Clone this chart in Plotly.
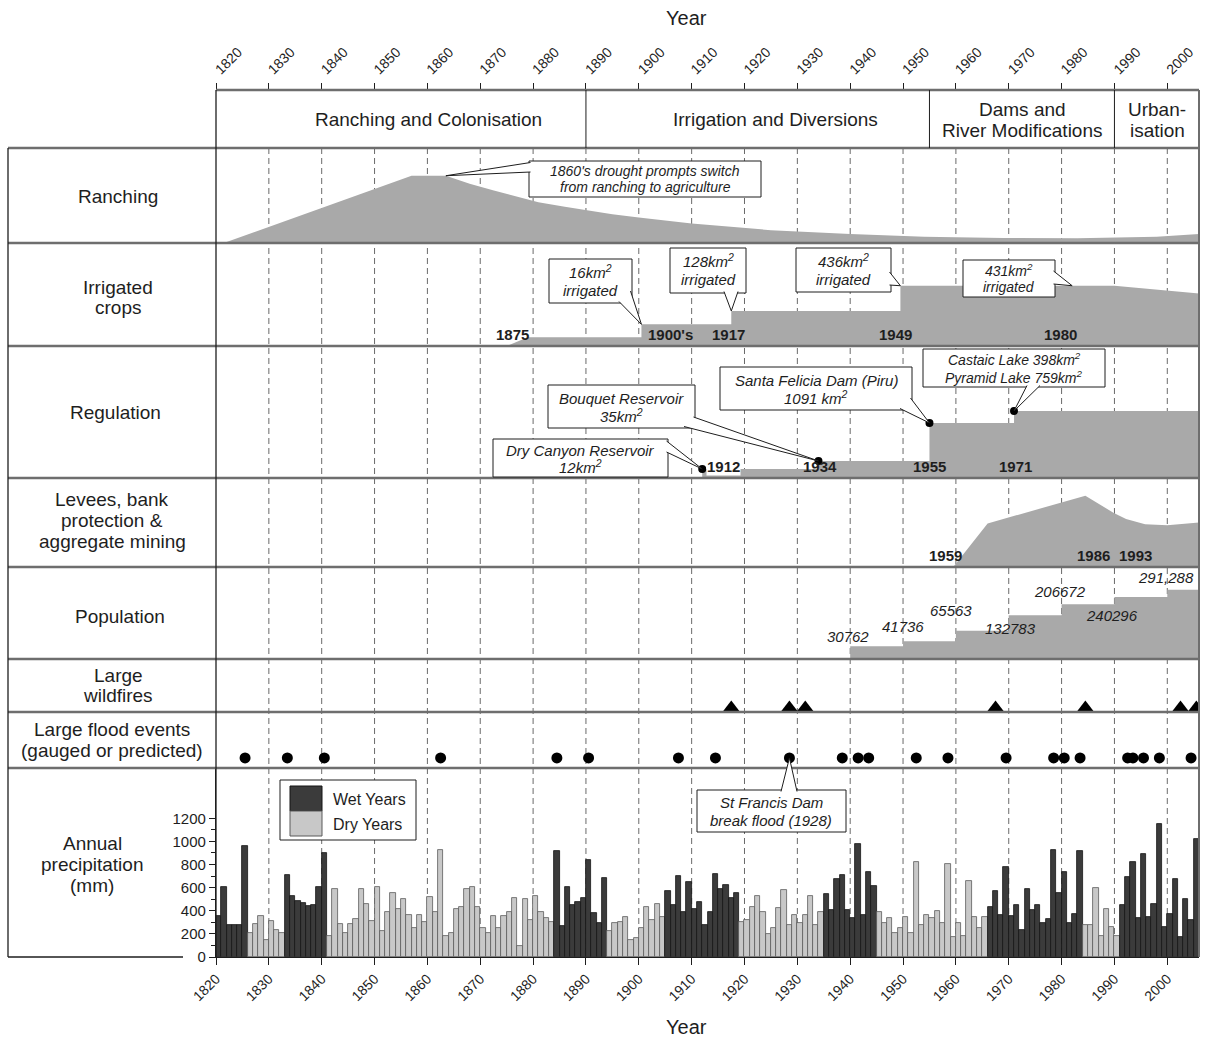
import plotly.graph_objects as go

W, H = 1208, 1037
X_LEFT, X_RIGHT = 216, 1199
YEAR0, YEAR1 = 1820, 2006
FONT = "Liberation Sans, Arial, Helvetica, sans-serif"
INK = "#1e1e1e"
AREA = "#a9a9a9"
WET = "#3b3b3b"
DRY = "#c8c8c8"
SEP = "#6e6e6e"

# ---------------------------------------------------------------- data
decades = list(range(1820, 2001, 10))
precip_years = list(range(1820, 2006))
precip_mm = [
    355, 603, 274, 274, 274, 958, 210, 282, 355, 143,   # 1820s
    311, 230, 210, 710, 530, 486, 463, 442, 448, 608,   # 1830s
    900, 186, 585, 282, 210, 288, 326, 585, 457, 311,   # 1840s
    608, 224, 390, 556, 416, 506, 361, 253, 361, 303,   # 1850s
    515, 390, 929, 180, 210, 419, 434, 585, 608, 434,   # 1860s
    253, 210, 355, 253, 355, 390, 509, 99, 501, 320,    # 1870s
    530, 390, 341, 306, 917, 268, 608, 451, 477, 509,   # 1880s
    835, 378, 297, 681, 224, 291, 303, 346, 151, 166,   # 1890s
    253, 434, 320, 457, 346, 568, 451, 704, 390, 646,   # 1900s
    419, 480, 277, 393, 719, 588, 626, 509, 553, 306,   # 1910s
    317, 434, 530, 390, 195, 247, 422, 582, 277, 361,   # 1920s
    297, 361, 530, 277, 390, 541, 408, 672, 710, 405,   # 1930s
    335, 975, 364, 734, 611, 390, 291, 335, 210, 247,   # 1940s
    349, 210, 821, 277, 364, 335, 399, 291, 806, 172,   # 1950s
    291, 180, 655, 349, 253, 349, 434, 571, 364, 777,   # 1960s
    355, 448, 233, 585, 405, 448, 297, 326, 923, 556,   # 1970s
    734, 297, 376, 917, 277, 277, 597, 180, 413, 262,   # 1980s
    180, 448, 690, 821, 335, 894, 349, 457, 1147, 262,  # 1990s
    376, 675, 172, 501, 320, 1025,                      # 2000s
]
wet_start = [1820, 1833, 1884, 1905, 1935, 1966, 1991]
wet_end = [1825, 1840, 1893, 1918, 1944, 1983, 2005]

flood_years = [1825, 1833, 1840, 1862, 1884, 1890, 1907, 1914, 1928, 1938, 1941,
               1943, 1952, 1958, 1969, 1978, 1980, 1983, 1992, 1993, 1995, 1998, 2004]
fire_years = [1917, 1928, 1931, 1967, 1984, 2002, 2005]

ranch_year = [1822, 1857, 1863.5, 1868, 1872.4, 1877, 1881, 1886, 1890, 1895, 1900,
              1910, 1925, 1940, 1954, 1969, 1983, 1998, 2006]
ranch_index = [0, 70.5, 70.5, 62, 55, 48, 42.4, 37.5, 33.7, 29.5, 26,
               19.7, 12.6, 8.4, 5.6, 4.2, 4.0, 5.5, 8.4]

irr_start, irr_ramp_end = 1875, 1879
irr_step_year = [1875, 1900, 1917, 1949]
irr_step_level = [0.085, 0.21, 0.34, 0.585]
irr_decline_year = [1990, 2006]
irr_decline_level = [0.585, 0.51]

reg_year = [1912, 1934, 1955, 1971]
reg_level = [0.068, 0.129, 0.417, 0.508]

levee_year = [1959.5, 1966, 1984.5, 1987.3, 1989.8, 1992.2, 1995.8, 2000, 2006]
levee_level = [0, 0.49, 0.80, 0.70, 0.61, 0.54, 0.48, 0.47, 0.50]

pop_year = [1940, 1950, 1960, 1970, 1980, 1990, 2000]
pop_count = ["30762", "41736", "65563", "132783", "206672", "240296", "291,288"]
pop_level = [0.13, 0.185, 0.30, 0.47, 0.59, 0.67, 0.75]

# ---------------------------------------------------------------- geometry
def xp(px):
    return px / W


def yp(py):
    return 1 - py / H


def year_px(year):
    return X_LEFT + (year - YEAR0) * (X_RIGHT - X_LEFT) / (YEAR1 - YEAR0)


PANELS = {
    "ranch": (148, 242, 0, 100),
    "irr": (243, 346, 0, 1),
    "reg": (346, 478, 0, 1),
    "lev": (478, 567, 0, 1),
    "pop": (567, 658, 0, 1),
    "fire": (659, 712, 0, 1),
    "flood": (712, 768, 0, 1),
    "rain": (768, 957, 0, 1635),
}
AX = {"rain": "y", "flood": "y2", "fire": "y3", "pop": "y4", "lev": "y5",
      "reg": "y6", "irr": "y7", "ranch": "y8"}


def val_px(panel, v):
    top, bot, lo, hi = PANELS[panel]
    return bot - (v - lo) / (hi - lo) * (bot - top)


fig = go.Figure()


def area(x, y, panel, shape="linear"):
    fig.add_trace(go.Scatter(x=x, y=y, mode="lines",
                             line=dict(width=0, color=AREA, shape=shape),
                             fill="tozeroy", fillcolor=AREA, xaxis="x",
                             yaxis=AX[panel], hoverinfo="skip", showlegend=False))


# ranching
area(ranch_year, ranch_index, "ranch")

# irrigated crops
ix, iy = [irr_start, irr_ramp_end], [0, irr_step_level[0]]
for k in range(1, len(irr_step_year)):
    ix += [irr_step_year[k] + 0.5, irr_step_year[k] + 0.5]
    iy += [irr_step_level[k - 1], irr_step_level[k]]
ix += irr_decline_year
iy += irr_decline_level
area(ix, iy, "irr")

# regulation
area(reg_year + [YEAR1], reg_level + [reg_level[-1]], "reg", "hv")
fig.add_trace(go.Scatter(x=reg_year, y=reg_level, mode="markers",
                         marker=dict(size=8, color="black"), xaxis="x", yaxis=AX["reg"],
                         hoverinfo="skip", showlegend=False))

# levees
area(levee_year, levee_level, "lev")

# population
area(pop_year + [YEAR1], pop_level + [pop_level[-1]], "pop", "hv")

# wildfires
fire_size = 14
fire_centre = (PANELS["fire"][1] - 1 - fire_size / 4)
fig.add_trace(go.Scatter(
    x=[y + 0.5 for y in fire_years],
    y=[(PANELS["fire"][1] - fire_centre) / (PANELS["fire"][1] - PANELS["fire"][0])] * len(fire_years),
    mode="markers", marker=dict(symbol="triangle-up", size=fire_size, color="black"),
    xaxis="x", yaxis=AX["fire"], hoverinfo="skip", showlegend=False))

# floods
fig.add_trace(go.Scatter(
    x=[y + 0.5 for y in flood_years], y=[0.18] * len(flood_years), mode="markers",
    marker=dict(symbol="circle", size=11, color="black"),
    xaxis="x", yaxis=AX["flood"], hoverinfo="skip", showlegend=False))

# precipitation bars
is_wet = [any(s <= yr <= e for s, e in zip(wet_start, wet_end)) for yr in precip_years]
fig.add_trace(go.Bar(
    x=[yr + 0.5 for yr in precip_years], y=precip_mm, width=1.0,
    marker=dict(color=[WET if w else DRY for w in is_wet],
                line=dict(color=["#151515" if w else "#5a5a5a" for w in is_wet], width=0.8)),
    xaxis="x", yaxis="y", hoverinfo="skip", showlegend=False))

# invisible trace to carry the top axis
fig.add_trace(go.Scatter(x=[YEAR0], y=[0], xaxis="x2", yaxis="y", mode="markers",
                         marker=dict(opacity=0), hoverinfo="skip", showlegend=False))

# ---------------------------------------------------------------- shapes
shapes = []


def line(x0, y0, x1, y1, color=INK, width=1.0, dash=None, layer="above"):
    shapes.append(dict(type="line", xref="paper", yref="paper",
                       x0=xp(x0), y0=yp(y0), x1=xp(x1), y1=yp(y1),
                       line=dict(color=color, width=width, dash=dash), layer=layer))


def rect(x0, y0, x1, y1, fill="white", color=INK, width=1.0):
    shapes.append(dict(type="rect", xref="paper", yref="paper",
                       x0=xp(x0), y0=yp(y1), x1=xp(x1), y1=yp(y0),
                       fillcolor=fill, line=dict(color=color, width=width)))


for d in decades[1:]:
    line(year_px(d), 148, year_px(d), 957, "#6a6a6a", 1, "6px,4px", "below")

for ysep in [148, 243, 346, 478, 567, 659, 712, 768]:
    line(8, ysep, X_RIGHT, ysep, SEP, 2.5)
line(X_LEFT, 90, X_RIGHT, 90, SEP, 2.5)
line(8, 148, 8, 957, INK, 1.3)
line(X_LEFT, 90, X_LEFT, 957, INK, 1.3)
line(X_RIGHT, 90, X_RIGHT, 957, SEP, 2)
line(8, 957, 183, 957, INK, 1.3)
for d in [1890, 1955, 1990]:
    line(year_px(d), 90, year_px(d), 148, INK, 1)

annotations = []


def text(s, x, y, size=19, anchor="center", color=INK, bg=None):
    a = dict(text=s, x=xp(x), y=yp(y), xref="paper", yref="paper", showarrow=False,
             xanchor=anchor, yanchor="middle", font=dict(family=FONT, size=size, color=color))
    if bg:
        a["bgcolor"] = bg
        a["borderpad"] = 0
    annotations.append(a)


def lines(rows, x, y0, step, size=19, anchor="center"):
    for k, r in enumerate(rows):
        text(r, x, y0 + k * step, size, anchor)


def callout(box, rows, row_y, tip, base, size=15):
    x0, y0, x1, y1 = box
    rect(x0, y0, x1, y1)
    (bx1, by1), (bx2, by2) = base
    tx, ty = tip
    shapes.append(dict(type="path", xref="paper", yref="paper",
                       path=f"M {xp(bx1)},{yp(by1)} L {xp(tx)},{yp(ty)} L {xp(bx2)},{yp(by2)}",
                       fillcolor="white", line=dict(color=INK, width=1)))
    cx = (x0 + x1) / 2
    for r, yy in zip(rows, row_y):
        text(f"<i>{r}</i>", cx, yy, size)


# callouts
callout((529, 161, 761, 197),
        ["1860's drought prompts switch", "from ranching to agriculture"], [171, 187],
        (year_px(ranch_year[2]), val_px("ranch", ranch_index[2])),
        [(530.5, 162.5), (530.5, 172)], size=14)
irr_labels = ["16km<sup>2</sup>", "128km<sup>2</sup>", "436km<sup>2</sup>", "431km<sup>2</sup>"]
callout((549, 259, 632, 303), [irr_labels[0], "irrigated"], [271, 290],
        (year_px(irr_step_year[1] + 0.5), val_px("irr", irr_step_level[1])),
        [(630.5, 291), (619, 301.5)])
callout((670, 248, 746, 293), [irr_labels[1], "irrigated"], [260, 279],
        (year_px(irr_step_year[2] + 0.5), val_px("irr", irr_step_level[2])),
        [(724, 291.5), (738, 291.5)])
callout((796, 248, 891, 292), [irr_labels[2], "irrigated"], [260, 279],
        (year_px(irr_step_year[3] + 0.5), val_px("irr", irr_step_level[3])),
        [(889.5, 272), (889.5, 285)])
callout((963, 260, 1055, 297), [irr_labels[3], "irrigated"], [270, 287],
        (year_px(1982), val_px("irr", irr_step_level[3])),
        [(1053.5, 271), (1053.5, 284)], size=14)

reg_dot = [(year_px(y), val_px("reg", v)) for y, v in zip(reg_year, reg_level)]
callout((493, 439, 668, 477), ["Dry Canyon Reservoir", "12km<sup>2</sup>"], [450, 466],
        reg_dot[0], [(666.5, 441), (666.5, 452)])
callout((548, 385, 695, 428), ["Bouquet Reservoir", "35km<sup>2</sup>"], [398, 415],
        reg_dot[1], [(693.5, 417), (684, 426.5)])
callout((720, 367, 912, 410), ["Santa Felicia Dam (Piru)", "1091 km<sup>2</sup>"], [380, 397],
        reg_dot[2], [(900, 408.5), (910.5, 398)])
callout((923, 349, 1105, 387), ["Castaic Lake 398km<sup>2</sup>", "Pyramid Lake 759km<sup>2</sup>"],
        [359, 377], reg_dot[3], [(1027, 385.5), (1040, 385.5)], size=14)

callout((697, 790, 846, 832), ["St Francis Dam", "break flood (1928)"], [802, 820],
        (year_px(1928.5), val_px("flood", 0.18)), [(781, 791.5), (797, 791.5)])

# legend
rect(280, 780, 416, 840)
rect(290, 786, 322, 811, WET, "#151515", 1)
rect(290, 811, 322, 836, DRY, "#5a5a5a", 1)
text("Wet Years", 331, 799, 16, "left")
text("Dry Years", 331, 824, 16, "left")

# header
text("Ranching and Colonisation", 428, 119, 19)
text("Irrigation and Diversions", 775, 119, 19)
lines(["Dams and", "River Modifications"], 1022, 110, 20, 19)
lines(["Urban-", "isation"], 1157, 110, 20, 19)
text("Year", 686, 18, 20)
text("Year", 686, 1027, 20)

# left column
text("Ranching", 118, 197)
lines(["Irrigated", "crops"], 118, 287, 21)
text("Regulation", 115, 413)
lines(["Levees, bank", "protection &", "aggregate mining"], 112, 499, 21)
text("Population", 120, 616)
lines(["Large", "wildfires"], 118, 675, 20)
lines(["Large flood events", "(gauged or predicted)"], 112, 729, 21)
lines(["Annual", "precipitation", "(mm)"], 92, 843, 21)

# bold year labels
for s, x in [("1875", 512), ("1900's", 670), ("1917", 728), ("1949", 895), ("1980", 1060)]:
    text(f"<b>{s}</b>", x, 335, 15)
for k, (s, x) in enumerate([("1912", 724), ("1934", 820), ("1955", 929), ("1971", 1015)]):
    text(f"<b>{s}</b>", x, 467, 15, bg="white" if k == 0 else None)
for s, x in [("1959", 945), ("1986", 1093), ("1993", 1135)]:
    text(f"<b>{s}</b>", x, 555, 15)

# population labels
pop_pos = [(848, 636), (903, 626), (951, 610), (1010, 628), (1060, 591), (1112, 615), (1166, 577)]
for s, (x, y) in zip(pop_count, pop_pos):
    text(f"<i>{s}</i>", x, y, 15)

# ---------------------------------------------------------------- axes
layout = dict(
    width=W, height=H, margin=dict(l=0, r=0, t=0, b=0), template="none",
    paper_bgcolor="white", plot_bgcolor="rgba(0,0,0,0)", bargap=0, showlegend=False,
    font=dict(family=FONT, color=INK),
    shapes=shapes, annotations=annotations,
    xaxis=dict(domain=[xp(X_LEFT), xp(X_RIGHT)], range=[YEAR0, YEAR1], anchor="y",
               tickmode="array", tickvals=decades, ticktext=[str(d) for d in decades],
               tickangle=-45, ticks="outside", ticklen=7, tickcolor=INK,
               showline=True, linecolor=INK, linewidth=1.3, showgrid=False, zeroline=False,
               tickfont=dict(family=FONT, size=14, color=INK), automargin=False, fixedrange=True),
    xaxis2=dict(overlaying="x", side="top", anchor="free", position=yp(90),
                range=[YEAR0, YEAR1], tickmode="array", tickvals=decades,
                ticktext=[str(d) for d in decades], tickangle=-45, ticks="outside", ticklen=7,
                tickcolor=INK, showline=False, showgrid=False, zeroline=False,
                tickfont=dict(family=FONT, size=14, color=INK), automargin=False, fixedrange=True),
)
for name, ax in AX.items():
    top, bot, lo, hi = PANELS[name]
    key = "yaxis" if ax == "y" else "yaxis" + ax[1:]
    d = dict(domain=[yp(bot), yp(top)], range=[lo, hi], anchor="x", showgrid=False,
             zeroline=False, fixedrange=True, automargin=False)
    if name == "rain":
        d.update(tickmode="array", tickvals=list(range(0, 1201, 200)), ticks="outside",
                 ticklen=6, tickcolor=INK, showline=True, linecolor=INK, linewidth=1.3,
                 tickfont=dict(family=FONT, size=15, color=INK),
                 minor=dict(tickvals=list(range(100, 1200, 200)), ticks="outside",
                            ticklen=4, tickcolor=INK))
    else:
        d.update(visible=False)
    layout[key] = d

fig.update_layout(**layout)
fig.write_html("out.html", config={"displayModeBar": False},
               post_script="document.body.style.margin='0';")
